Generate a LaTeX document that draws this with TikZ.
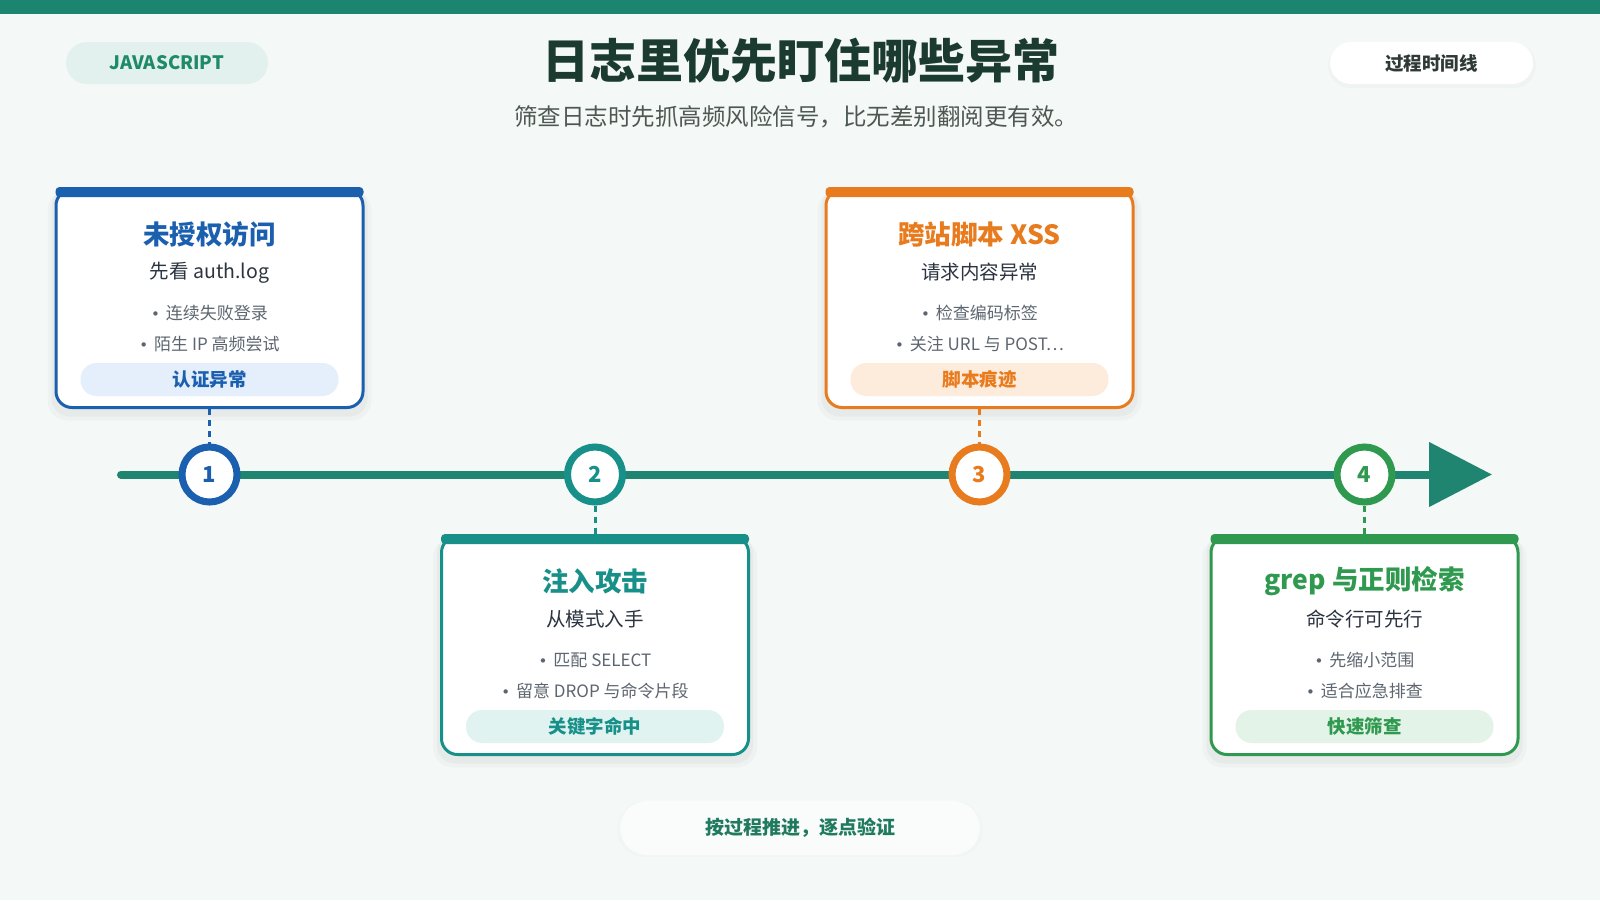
\documentclass[tikz,border=0pt]{standalone}
\usepackage{fontspec}
\setmainfont{Noto Sans CJK SC}
\newfontfamily\symfont{DejaVu Sans}
\usetikzlibrary{calc,arrows.meta}
\definecolor{bg}{HTML}{F4F8F6}
\definecolor{topbar}{HTML}{1B8570}
\definecolor{tlc}{HTML}{1F8470}
\definecolor{cblue}{HTML}{1B5FAF}
\definecolor{cteal}{HTML}{17908A}
\definecolor{corange}{HTML}{E87B1E}
\definecolor{cgreen}{HTML}{2F9A4F}
\definecolor{titlec}{HTML}{1B3B31}
\definecolor{subc}{HTML}{4E5853}
\definecolor{darktext}{HTML}{2B3440}
\definecolor{graytext}{HTML}{5D6670}
\definecolor{tblue}{HTML}{E5EFFB}
\definecolor{tteal}{HTML}{E0F3F0}
\definecolor{torange}{HTML}{FDEBDC}
\definecolor{tgreen}{HTML}{E4F3E8}
\definecolor{jsfill}{HTML}{E3F1EE}
\definecolor{jstext}{HTML}{1E8A6A}
\definecolor{bottext}{HTML}{1F7A5E}
\definecolor{pilltext}{HTML}{2F3A36}
\newcommand{\bul}{{\symfont\fontsize{15}{18}\selectfont •}\hspace{0.35em}}
\newcommand{\mkcard}[9]{%
  \fill[black, opacity=0.025, rounded corners=20] ($(#1)+(-162,-108)$) rectangle ($(#1)+(162,122)$);
  \fill[black, opacity=0.03, rounded corners=18] ($(#1)+(-158,-110)$) rectangle ($(#1)+(158,118)$);
  \node[cardbox, draw=#2] (#1c) at (#1) {};
  \fill[#2, rounded corners=4] ($(#1c.north west)+(1,-1)$) rectangle ($(#1c.north east)+(-1,9)$);
  \node[cardtitle, text=#2] (#1t) at ($(#1c.north)+(0,46)$) {#4};
  \node[cardsub] (#1s) at ($(#1c.north)+(0,84.5)$) {#5};
  \node[cardbul] (#1a) at ($(#1c.north)+(0,125)$) {\bul #6};
  \node[cardbul] (#1b) at ($(#1c.north)+(0,156)$) {\bul #7};
  \node[cardtag, fill=#3, text=#2] (#1g) at ($(#1c.north)+(0,191.5)$) {#8};
}
\begin{document}
\begin{tikzpicture}[x=1pt,y=-1pt,
  cardbox/.style={rectangle, fill=white, line width=3pt, rounded corners=16pt, minimum width=307pt, minimum height=218pt, inner sep=0pt},
  cardtitle/.style={font=\fontsize{26.5}{32}\selectfont\bfseries, inner sep=0pt},
  cardsub/.style={font=\fontsize{19.5}{24}\selectfont, text=darktext, inner sep=0pt},
  cardbul/.style={font=\fontsize{17}{21}\selectfont, text=graytext, inner sep=0pt},
  cardtag/.style={rounded corners=16pt, minimum width=258pt, minimum height=33pt, inner sep=0pt, font=\fontsize{18.5}{22}\selectfont\bfseries},
  numc/.style={circle, fill=white, line width=7pt, minimum size=55pt, inner sep=0pt, font=\fontsize{22}{26}\selectfont\bfseries},
  dashc/.style={line width=3pt, dash pattern=on 6pt off 5pt},
  pill/.style={rounded corners=21pt, minimum height=42pt, inner sep=0pt, font=\fontsize{18.5}{22}\selectfont\bfseries}
]
\useasboundingbox (0,0) rectangle (1600,900);
\fill[bg] (0,0) rectangle (1600,900);
\fill[topbar] (0,0) rectangle (1600,14);

% header
\node[pill, fill=jsfill, text=jstext, minimum width=202pt] (js) at (167,63) {JAVASCRIPT};
\fill[black, opacity=0.02, rounded corners=22pt] (1328,43) rectangle (1536,88);
\node[pill, fill=white, text=pilltext, minimum width=203pt] (tlpill) at (1431.5,63) {过程时间线};
\node[font=\fontsize{47}{56}\selectfont\bfseries, text=titlec, inner sep=0pt] (title) at (801,61) {日志里优先盯住哪些异常};
\node[font=\fontsize{23.5}{28}\selectfont, text=subc, inner sep=0pt] (subtitle) at (796,117) {筛查日志时先抓高频风险信号，比无差别翻阅更有效。};

% cards
\coordinate (k1) at (209.5,298.5);
\coordinate (k2) at (595,645.5);
\coordinate (k3) at (979.5,298.5);
\coordinate (k4) at (1364.5,645.5);
\mkcard{k1}{cblue}{tblue}{未授权访问}{先看 auth.log}{连续失败登录}{陌生 IP 高频尝试}{认证异常}{}
\mkcard{k2}{cteal}{tteal}{注入攻击}{从模式入手}{匹配 SELECT}{留意 DROP 与命令片段}{关键字命中}{}
\mkcard{k3}{corange}{torange}{跨站脚本 XSS}{请求内容异常}{检查编码标签}{关注 URL 与 POST…}{脚本痕迹}{}
\mkcard{k4}{cgreen}{tgreen}{grep 与正则检索}{命令行可先行}{先缩小范围}{适合应急排查}{快速筛查}{}

% timeline
\coordinate (tl0) at (121,474.5);
\coordinate (tl1) at (1492,474.5);
\draw[tlc, line width=8pt, line cap=round, -{Triangle[length=63pt,width=63pt]}] (tl0) -- (tl1);

\node[numc, draw=cblue, text=cblue] (n1) at (209.5,474.5) {1};
\node[numc, draw=cteal, text=cteal] (n2) at (595,474.5) {2};
\node[numc, draw=corange, text=corange] (n3) at (979.5,474.5) {3};
\node[numc, draw=cgreen, text=cgreen] (n4) at (1364.5,474.5) {4};

\draw[dashc, cblue] (k1c.south) -- (n1.north);
\draw[dashc, cteal] (n2.south) -- (k2c.north);
\draw[dashc, corange] (k3c.south) -- (n3.north);
\draw[dashc, cgreen] (n4.south) -- (k4c.north);

% bottom
\fill[black, opacity=0.012, rounded corners=28pt] (617,801) rectangle (983,857);
\node[rounded corners=27pt, fill=white!55!bg, minimum width=360pt, minimum height=54pt, inner sep=0pt, font=\fontsize{19}{23}\selectfont\bfseries, text=bottext] (foot) at (800,828) {按过程推进，逐点验证};
\end{tikzpicture}
\end{document}
